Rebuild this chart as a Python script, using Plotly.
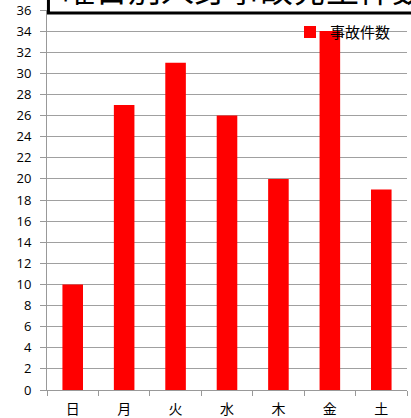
import plotly.graph_objects as go

categories = ["日", "月", "火", "水", "木", "金", "土"]
values = [10, 27, 31, 26, 20, 34, 19]
series_name = "事故件数"
title_text = "曜日別人身事故発生件数"
y_ticks = list(range(0, 37, 2))

font_family = "Noto Sans CJK JP, Noto Sans, sans-serif"

fig = go.Figure()
fig.add_trace(go.Bar(
    x=categories, y=values, name=series_name,
    marker=dict(color="#ff0000", line=dict(width=0)),
))

fig.update_layout(
    width=411, height=418,
    margin=dict(l=47, r=4, t=10, b=28, autoexpand=False),
    paper_bgcolor="white", plot_bgcolor="white",
    bargap=0.6,
    showlegend=True,
    legend=dict(x=0.675, y=0.985, xanchor="left", yanchor="top",
                bgcolor="rgba(0,0,0,0)", font=dict(size=15, family=font_family, color="#000"),
                itemwidth=30, itemsizing="constant"),
    font=dict(family=font_family, color="#000"),
)
fig.update_xaxes(
    showgrid=False, showline=True, linecolor="#999", linewidth=1,
    ticks="outside", tickson="boundaries", ticklen=5, tickcolor="#999",
    tickfont=dict(size=14, family=font_family, color="#000"),
    ticklabelstandoff=6, automargin=False,
    fixedrange=True,
)
fig.update_yaxes(
    range=[0, 36], tickvals=y_ticks, showgrid=True, gridcolor="#a0a0a0", gridwidth=1,
    showline=True, linecolor="#999", linewidth=1,
    ticks="outside", ticklen=6, tickcolor="#999",
    tickfont=dict(size=13, family="Open Sans, DejaVu Sans, sans-serif", color="#000"),
    ticklabelstandoff=6, ticklabeloverflow="allow", automargin=False,
    zeroline=False, fixedrange=True,
)

# Title box (partially cut off at top of image)
fig.add_shape(type="rect", xref="paper", yref="paper",
              x0=0.004, x1=1.2, y0=1 - 3 / 380, y1=1.3,
              fillcolor="white", line=dict(color="black", width=3), layer="above")
fig.add_annotation(text=title_text, xref="paper", yref="paper",
                   x=0.035, y=1 + 4 / 380, xanchor="left", yanchor="bottom",
                   showarrow=False, yshift=-8,
                   font=dict(size=33, family=font_family, color="#000"))

fig.write_html("out.html", config={"displayModeBar": False},
               post_script="document.body.style.margin='0';")
